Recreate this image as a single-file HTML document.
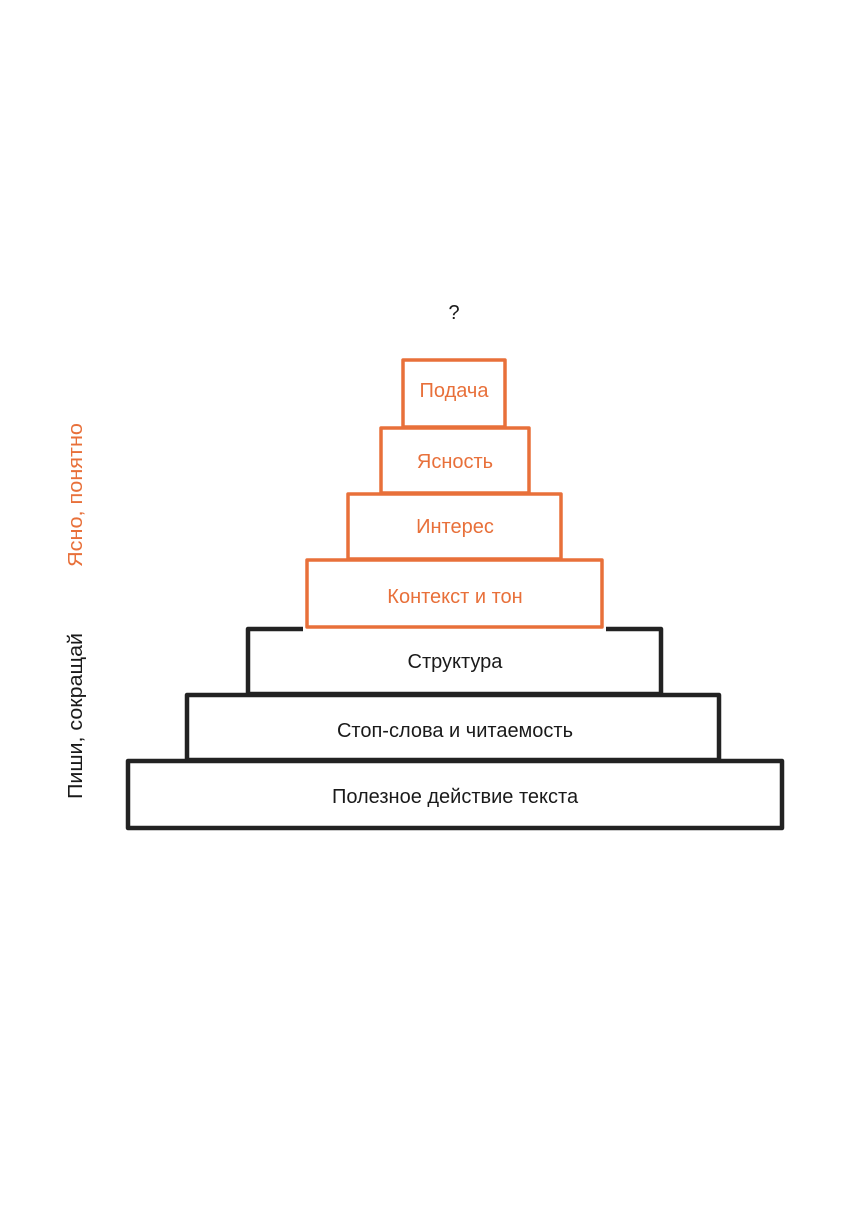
<!DOCTYPE html>
<html><head><meta charset="utf-8"><style>
html,body{margin:0;padding:0;background:#fff;}
svg{display:block;}
text{font-family:"Liberation Sans","DejaVu Sans",sans-serif;font-size:20px;text-anchor:middle;dominant-baseline:central;}
</style></head><body>
<svg width="857" height="1223" viewBox="0 0 857 1223">
<g fill="none" stroke="#222" stroke-width="4.5" stroke-linejoin="round">
<rect x="128" y="761" width="654" height="67"/>
<rect x="187" y="695" width="532" height="65"/>
<path d="M303 629 L248 629 L248 694 M606 629 L661 629 L661 694"/>
<line x1="248" y1="694" x2="661" y2="694"/>
</g>
<g fill="#fff" stroke="#e8703a" stroke-width="3.5" stroke-linejoin="round">
<rect x="307" y="560" width="295" height="67"/>
<rect x="348" y="494" width="213" height="65"/>
<rect x="381" y="428" width="148" height="65"/>
<rect x="403" y="360" width="102" height="67"/>
</g>
<g fill="#e8703a">
<text x="454" y="391">Подача</text>
<text x="455" y="462">Ясность</text>
<text x="455" y="527">Интерес</text>
<text x="455" y="597">Контекст и тон</text>
<text x="76" y="495" transform="rotate(-90 76 495)" textLength="144" lengthAdjust="spacingAndGlyphs">Ясно, понятно</text>
</g>
<g fill="#1a1a1a">
<text x="454" y="313">?</text>
<text x="455" y="662">Структура</text>
<text x="455" y="731">Стоп-слова и читаемость</text>
<text x="455" y="797">Полезное действие текста</text>
<text x="76" y="716" transform="rotate(-90 76 716)" textLength="166" lengthAdjust="spacingAndGlyphs">Пиши, сокращай</text>
</g>
</svg>
</body></html>
